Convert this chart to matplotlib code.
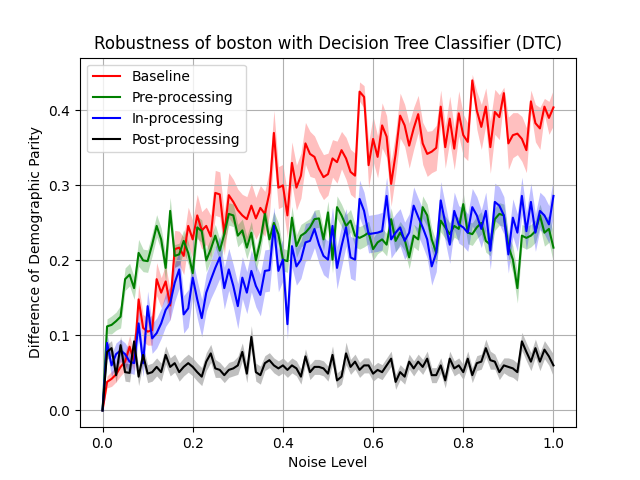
import numpy as np
import matplotlib
matplotlib.use("Agg")
import matplotlib.pyplot as plt

noise = np.linspace(0, 1, 101)

baseline = [0.0, 0.038, 0.042, 0.048, 0.058, 0.065, 0.085, 0.065, 0.148, 0.11,
            0.105, 0.107, 0.175, 0.157, 0.172, 0.14, 0.215, 0.217, 0.206, 0.246,
            0.228, 0.26, 0.24, 0.246, 0.232, 0.29, 0.288, 0.235, 0.287, 0.278,
            0.267, 0.26, 0.255, 0.273, 0.256, 0.27, 0.262, 0.29, 0.37, 0.297,
            0.30, 0.26, 0.33, 0.297, 0.313, 0.356, 0.342, 0.338, 0.322, 0.311,
            0.315, 0.336, 0.331, 0.347, 0.336, 0.318, 0.313, 0.425, 0.418, 0.327,
            0.362, 0.338, 0.38, 0.365, 0.302, 0.342, 0.393, 0.38, 0.353, 0.376,
            0.395, 0.356, 0.342, 0.345, 0.35, 0.405, 0.351, 0.389, 0.349, 0.396,
            0.367, 0.358, 0.44, 0.40, 0.378, 0.405, 0.351, 0.398, 0.391, 0.423,
            0.356, 0.367, 0.369, 0.362, 0.347, 0.412, 0.383, 0.376, 0.405, 0.39,
            0.404]
baseline_err = [0.0, 0.008, 0.01, 0.01, 0.012, 0.012, 0.015, 0.012, 0.02, 0.018,
                0.018, 0.02, 0.022, 0.02, 0.022, 0.02, 0.025, 0.022, 0.025, 0.025,
                0.025, 0.028, 0.025, 0.025, 0.028, 0.03, 0.03, 0.028, 0.03, 0.03,
                0.028, 0.028, 0.03, 0.03, 0.028, 0.03, 0.03, 0.03, 0.03, 0.028,
                0.028, 0.03, 0.028, 0.03, 0.03, 0.028, 0.03, 0.028, 0.03, 0.03,
                0.028, 0.025, 0.028, 0.025, 0.028, 0.03, 0.03, 0.013, 0.015, 0.03,
                0.03, 0.028, 0.03, 0.028, 0.03, 0.028, 0.03, 0.028, 0.03, 0.028,
                0.025, 0.028, 0.03, 0.028, 0.03, 0.022, 0.028, 0.03, 0.028, 0.03,
                0.028, 0.025, 0.008, 0.025, 0.03, 0.025, 0.035, 0.03, 0.03, 0.008,
                0.035, 0.03, 0.028, 0.03, 0.03, 0.015, 0.025, 0.028, 0.011, 0.022,
                0.024]

pre = [0.0, 0.112, 0.114, 0.119, 0.125, 0.175, 0.181, 0.163, 0.21, 0.2,
       0.199, 0.221, 0.246, 0.228, 0.19, 0.266, 0.206, 0.208, 0.226, 0.21,
       0.183, 0.244, 0.239, 0.2, 0.215, 0.233, 0.213, 0.235, 0.262, 0.26,
       0.233, 0.24, 0.217, 0.237, 0.2, 0.226, 0.262, 0.228, 0.25, 0.235,
       0.201, 0.199, 0.257, 0.219, 0.233, 0.237, 0.244, 0.255, 0.256, 0.228,
       0.264, 0.201, 0.271, 0.26, 0.246, 0.253, 0.233, 0.23, 0.233, 0.237,
       0.215, 0.224, 0.228, 0.221, 0.255, 0.226, 0.237, 0.228, 0.204, 0.233,
       0.228, 0.271, 0.26, 0.228, 0.21, 0.253, 0.244, 0.235, 0.246, 0.242,
       0.275, 0.237, 0.235, 0.244, 0.25, 0.226, 0.221, 0.255, 0.262, 0.26,
       0.219, 0.201, 0.163, 0.233, 0.23, 0.233, 0.239, 0.26, 0.237, 0.242,
       0.217]
pre_err = [0.0, 0.01, 0.012, 0.012, 0.015, 0.015, 0.015, 0.015, 0.018, 0.015,
           0.015, 0.015, 0.015, 0.015, 0.018, 0.018, 0.015, 0.015, 0.015, 0.015,
           0.015, 0.015, 0.015, 0.015, 0.015, 0.015, 0.015, 0.015, 0.015, 0.015,
           0.015, 0.015, 0.015, 0.015, 0.015, 0.015, 0.015, 0.015, 0.015, 0.015,
           0.015, 0.015, 0.015, 0.015, 0.015, 0.015, 0.012, 0.012, 0.012, 0.015,
           0.015, 0.018, 0.015, 0.015, 0.015, 0.015, 0.015, 0.015, 0.015, 0.015,
           0.015, 0.015, 0.015, 0.015, 0.015, 0.015, 0.015, 0.015, 0.015, 0.015,
           0.015, 0.015, 0.015, 0.015, 0.015, 0.015, 0.015, 0.015, 0.015, 0.015,
           0.015, 0.015, 0.015, 0.015, 0.015, 0.015, 0.015, 0.015, 0.015, 0.015,
           0.015, 0.018, 0.02, 0.015, 0.015, 0.015, 0.015, 0.015, 0.018, 0.018,
           0.02]

inproc = [0.0, 0.09, 0.06, 0.075, 0.08, 0.075, 0.065, 0.063, 0.116, 0.063,
          0.139, 0.096, 0.103, 0.116, 0.134, 0.143, 0.17, 0.188, 0.128, 0.136,
          0.177, 0.148, 0.123, 0.157, 0.174, 0.19, 0.204, 0.163, 0.188, 0.166,
          0.139, 0.177, 0.157, 0.186, 0.166, 0.154, 0.186, 0.187, 0.246, 0.186,
          0.201, 0.115, 0.219, 0.192, 0.201, 0.224, 0.226, 0.242, 0.221, 0.206,
          0.201, 0.246, 0.19, 0.219, 0.244, 0.204, 0.201, 0.282, 0.266, 0.235,
          0.236, 0.237, 0.239, 0.286, 0.228, 0.237, 0.244, 0.226, 0.237, 0.273,
          0.258, 0.244, 0.228, 0.192, 0.21, 0.28, 0.25, 0.221, 0.266, 0.248,
          0.244, 0.237, 0.271, 0.26, 0.242, 0.266, 0.213, 0.278, 0.273, 0.26,
          0.208, 0.257, 0.237, 0.286, 0.239, 0.278, 0.237, 0.266, 0.26, 0.248,
          0.286]
inproc_err = [0.0, 0.012, 0.015, 0.015, 0.015, 0.015, 0.015, 0.015, 0.02, 0.018,
              0.02, 0.02, 0.02, 0.02, 0.022, 0.022, 0.025, 0.025, 0.025, 0.025,
              0.025, 0.025, 0.025, 0.025, 0.025, 0.028, 0.028, 0.028, 0.028, 0.028,
              0.03, 0.028, 0.028, 0.028, 0.028, 0.028, 0.028, 0.028, 0.025, 0.028,
              0.028, 0.02, 0.028, 0.025, 0.025, 0.025, 0.025, 0.025, 0.025, 0.025,
              0.025, 0.025, 0.028, 0.028, 0.025, 0.028, 0.028, 0.025, 0.025, 0.025,
              0.025, 0.025, 0.025, 0.025, 0.025, 0.025, 0.025, 0.025, 0.025, 0.025,
              0.025, 0.025, 0.025, 0.025, 0.025, 0.025, 0.025, 0.025, 0.025, 0.025,
              0.025, 0.025, 0.025, 0.025, 0.025, 0.025, 0.025, 0.025, 0.025, 0.025,
              0.025, 0.025, 0.025, 0.025, 0.025, 0.025, 0.025, 0.025, 0.025, 0.025,
              0.025]

post = [0.0, 0.078, 0.083, 0.047, 0.087, 0.051, 0.05, 0.092, 0.045, 0.074,
        0.049, 0.051, 0.058, 0.051, 0.074, 0.058, 0.063, 0.051, 0.058, 0.063,
        0.058, 0.051, 0.045, 0.065, 0.076, 0.056, 0.054, 0.047, 0.054, 0.056,
        0.06, 0.078, 0.049, 0.098, 0.051, 0.047, 0.063, 0.067, 0.06, 0.056,
        0.06, 0.054, 0.06, 0.056, 0.045, 0.072, 0.051, 0.058, 0.058, 0.056,
        0.049, 0.074, 0.04, 0.045, 0.076, 0.058, 0.065, 0.054, 0.06, 0.06,
        0.049, 0.054, 0.051, 0.06, 0.069, 0.038, 0.051, 0.045, 0.065, 0.056,
        0.065, 0.058, 0.069, 0.047, 0.047, 0.06, 0.04, 0.069, 0.056, 0.06,
        0.051, 0.069, 0.047, 0.063, 0.065, 0.083, 0.067, 0.065, 0.051, 0.06,
        0.058, 0.056, 0.051, 0.092, 0.078, 0.065, 0.083, 0.065, 0.081, 0.072,
        0.06]
post_err = [0.0, 0.01, 0.01, 0.01, 0.012, 0.012, 0.012, 0.012, 0.012, 0.012,
            0.012, 0.012, 0.012, 0.012, 0.012, 0.012, 0.012, 0.012, 0.012, 0.012,
            0.012, 0.012, 0.012, 0.012, 0.012, 0.012, 0.01, 0.01, 0.01, 0.01,
            0.012, 0.012, 0.012, 0.015, 0.012, 0.012, 0.01, 0.01, 0.01, 0.01,
            0.01, 0.01, 0.01, 0.01, 0.01, 0.01, 0.01, 0.01, 0.01, 0.01,
            0.01, 0.012, 0.01, 0.01, 0.015, 0.01, 0.01, 0.01, 0.01, 0.01,
            0.01, 0.01, 0.01, 0.01, 0.01, 0.01, 0.01, 0.01, 0.01, 0.01,
            0.01, 0.01, 0.01, 0.01, 0.01, 0.01, 0.01, 0.01, 0.01, 0.01,
            0.01, 0.01, 0.01, 0.01, 0.01, 0.012, 0.012, 0.01, 0.01, 0.01,
            0.012, 0.012, 0.012, 0.012, 0.012, 0.012, 0.012, 0.012, 0.012, 0.012,
            0.015]

series = [
    ("Baseline", baseline, baseline_err, "red"),
    ("Pre-processing", pre, pre_err, "green"),
    ("In-processing", inproc, inproc_err, "blue"),
    ("Post-processing", post, post_err, "black"),
]

fig, ax = plt.subplots(figsize=(6.4, 4.8), dpi=100)
for name, vals, err, col in series:
    vals = np.array(vals)
    err = np.array(err)
    ax.plot(noise, vals, color=col, label=name)
    ax.fill_between(noise, vals - err, vals + err, color=col, alpha=0.25, linewidth=0)

ax.set_title("Robustness of boston with Decision Tree Classifier (DTC)")
ax.set_xlabel("Noise Level")
ax.set_ylabel("Difference of Demographic Parity")
ax.grid(True)
ax.legend(loc="upper left")
fig.savefig("out.png")
